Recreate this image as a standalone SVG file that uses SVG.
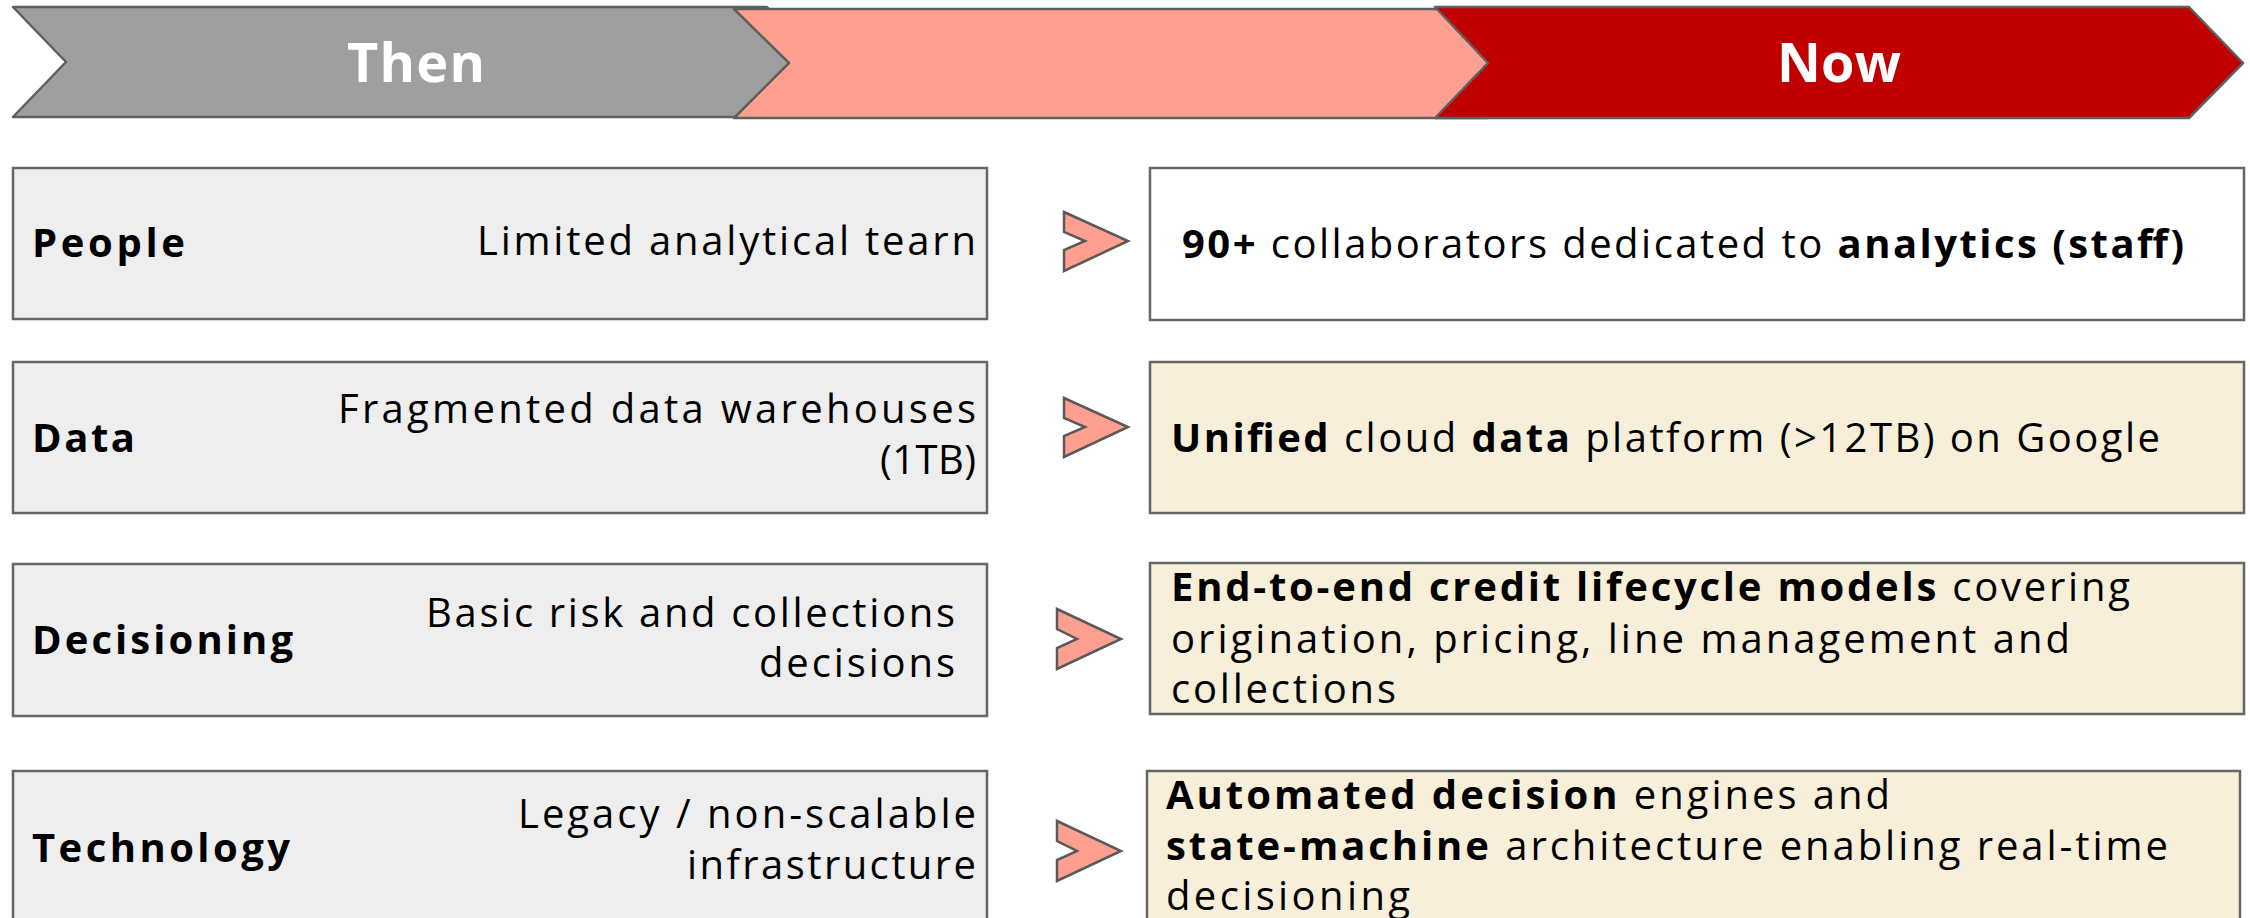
<svg xmlns="http://www.w3.org/2000/svg" width="2250" height="918" viewBox="0 0 2250 918">
  <style>
    .band { stroke: #5f5f5f; stroke-width: 2.5; stroke-linejoin: round; }
    .then-box { fill: #eeeeee; stroke: #666666; stroke-width: 2.5; }
    .now-box { fill: #f7efd9; stroke: #666666; stroke-width: 2.5; }
    .now-box.plain { fill: #ffffff; }
    .step { fill: #ff9f90; stroke: #595959; stroke-width: 2.5; stroke-linejoin: miter; }
    text { font-family: "Open Sans", "Liberation Sans", sans-serif; fill: #000000; }
    .head { font-size: 54px; font-weight: 700; fill: #ffffff; }
    .label { font-size: 40px; font-weight: 700; }
    .body { font-size: 40px; font-weight: 400; }
    .b { font-weight: 700; }
  </style>

  <!-- timeline header bands -->
  <g id="band-then">
    <path class="band" fill="#9f9f9f" d="M13,7 L767,7 L820,62 L767,117 L13,117 L66,62 Z"/>
  </g>
  <g id="band-middle">
    <path class="band" fill="#ff9f90" d="M734,9 L1487,9 L1540,63 L1487,118 L734,118 L789,63 Z"/>
  </g>
  <g id="band-now">
    <path class="band" fill="#c00000" d="M1435,7 L2189,7 L2243,63 L2189,118 L1435,118 L1488,63 Z"/>
  </g>
  <text class="head" x="347" y="82" textLength="138">Then</text>
  <text class="head" x="1777" y="82" textLength="124">Now</text>

  <!-- "then" column -->
  <g id="then-people">
    <rect class="then-box" x="13" y="168" width="974" height="151"/>
    <text class="label" x="32" y="257" textLength="153">People</text>
    <text class="body" x="477" y="255" textLength="499">Limited analytical tearn</text>
  </g>
  <g id="then-data">
    <rect class="then-box" x="13" y="362" width="974" height="151"/>
    <text class="label" x="32" y="452" textLength="103">Data</text>
    <text class="body" x="338" y="423" textLength="638">Fragmented data warehouses</text>
    <text class="body" x="880" y="474" textLength="96">(1TB)</text>
  </g>
  <g id="then-decisioning">
    <rect class="then-box" x="13" y="564" width="974" height="152"/>
    <text class="label" x="32" y="654" textLength="261">Decisioning</text>
    <text class="body" x="426" y="627" textLength="529">Basic risk and collections</text>
    <text class="body" x="759" y="677" textLength="196">decisions</text>
  </g>
  <g id="then-technology">
    <rect class="then-box" x="13" y="771" width="974" height="152"/>
    <text class="label" x="32" y="862" textLength="258">Technology</text>
    <text class="body" x="518" y="828" textLength="458">Legacy / non-scalable</text>
    <text class="body" x="687" y="879" textLength="289">infrastructure</text>
  </g>

  <!-- step markers between the columns -->
  <g id="connectors">
    <path class="step" d="M1064,212 L1128,241 L1064,271 L1064,250 L1085,241 L1064,232 Z"/>
    <path class="step" d="M1064,398 L1128,427 L1064,457 L1064,436 L1085,427 L1064,418 Z"/>
    <path class="step" d="M1057,609 L1121,639 L1057,669 L1057,648 L1077,639 L1057,629 Z"/>
    <path class="step" d="M1057,821 L1121,851 L1057,881 L1057,860 L1077,851 L1057,841 Z"/>
  </g>

  <!-- "now" column -->
  <g id="now-people">
    <rect class="now-box plain" x="1150" y="168" width="1094" height="152"/>
    <text class="body" x="1182" y="258" textLength="1002"><tspan class="b">90+</tspan> collaborators dedicated to <tspan class="b">analytics (staff)</tspan></text>
  </g>
  <g id="now-data">
    <rect class="now-box" x="1150" y="362" width="1094" height="151"/>
    <text class="body" x="1171" y="452" textLength="989"><tspan class="b">Unified</tspan> cloud <tspan class="b">data</tspan> platform (&gt;12TB) on Google</text>
  </g>
  <g id="now-decisioning">
    <rect class="now-box" x="1150" y="563" width="1094" height="151"/>
    <text class="body" x="1171" y="601" textLength="959"><tspan class="b">End-to-end credit lifecycle models</tspan> covering</text>
    <text class="body" x="1171" y="653" textLength="899">origination, pricing, line management and</text>
    <text class="body" x="1171" y="703" textLength="225">collections</text>
  </g>
  <g id="now-technology">
    <rect class="now-box" x="1147" y="771" width="1093" height="152"/>
    <text class="body" x="1166" y="809" textLength="724"><tspan class="b">Automated decision</tspan> engines and</text>
    <text class="body" x="1166" y="860" textLength="1002"><tspan class="b">state-machine</tspan> architecture enabling real-time</text>
    <text class="body" x="1166" y="910" textLength="244">decisioning</text>
  </g>
</svg>
